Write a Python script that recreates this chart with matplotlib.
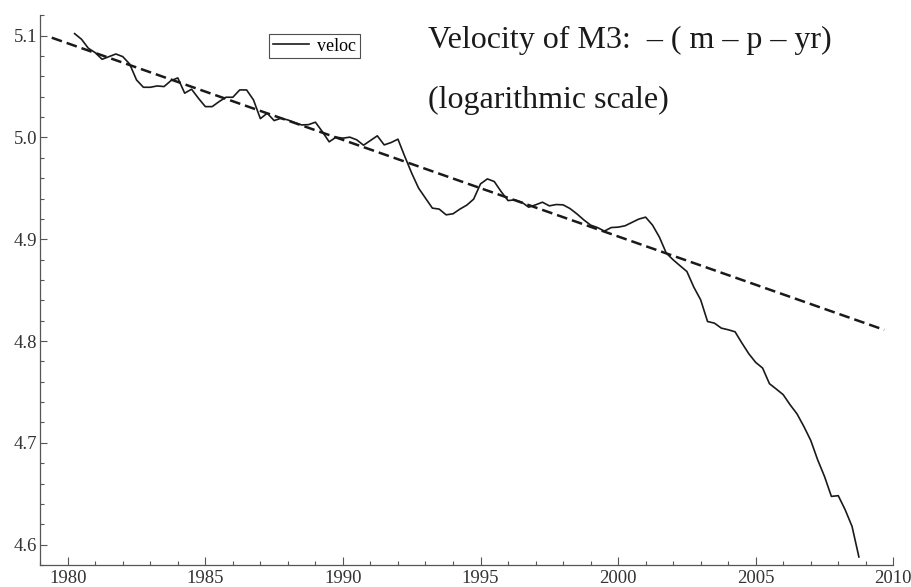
import numpy as np
import matplotlib
matplotlib.use("Agg")
import matplotlib.pyplot as plt

# quarterly velocity of M3 (log scale), 1980Q2 .. 2008Q4
start_year = 1980.25
veloc = [5.102, 5.0965, 5.0876, 5.0833, 5.0768, 5.0794, 5.082, 5.0794,
         5.0722, 5.0565, 5.0493, 5.0493, 5.0506, 5.050, 5.0558, 5.0585,
         5.0435, 5.0474, 5.0385, 5.0303, 5.0303, 5.0352, 5.0395, 5.0395,
         5.0467, 5.0467, 5.0369, 5.0185, 5.0238, 5.0166, 5.0189, 5.0172,
         5.0146, 5.0123, 5.0126, 5.015, 5.0058, 4.9957, 5.0003, 4.9993,
         5.0003, 4.9977, 4.9924, 4.997, 5.0016, 4.9927, 4.995, 4.9983,
         4.9812, 4.9649, 4.9502, 4.9404, 4.9306, 4.9296, 4.924, 4.925,
         4.9296, 4.9335, 4.9394, 4.9544, 4.9593, 4.9567, 4.9468, 4.938,
         4.9387, 4.9364, 4.9315, 4.9338, 4.9364, 4.9328, 4.9341, 4.9338,
         4.9302, 4.925, 4.9191, 4.9139, 4.9115, 4.908, 4.9115, 4.9119,
         4.9132, 4.9165, 4.9198, 4.9217, 4.9139, 4.9021, 4.8864, 4.8798,
         4.874, 4.8683, 4.853, 4.8405, 4.8192, 4.8176, 4.8127, 4.8111,
         4.8091, 4.798, 4.7875, 4.779, 4.7735, 4.7581, 4.7528, 4.7473,
         4.7374, 4.7285, 4.7161, 4.7024, 4.6834, 4.667, 4.6474, 4.6481,
         4.6343, 4.618, 4.5879]
years = start_year + 0.25 * np.arange(len(veloc))

# linear trend (dashed)
trend_years = [1979.42, 2009.67]
trend_vals = [5.098, 4.811]

xticks = [1980, 1985, 1990, 1995, 2000, 2005, 2010]
yticks = [4.6, 4.7, 4.8, 4.9, 5.0, 5.1]

plt.rcParams['font.family'] = ['Liberation Serif', 'DejaVu Serif']

fig = plt.figure(figsize=(9.12, 5.87), dpi=100)
ax = fig.add_axes([40.2/912, 22/587, 853.1/912, 550/587])

ax.plot(trend_years, trend_vals, color='#1a1a1a', lw=1.8,
        linestyle=(0, (4.3, 2.0)))
ax.plot(years, veloc, color='#1a1a1a', lw=1.2, label='veloc')

ax.set_xlim(1979, 2010)
ax.set_ylim(4.5804, 5.1203)
ax.set_xticks(xticks)
ax.set_xticks(np.arange(1979, 2011, 1), minor=True)
ax.set_yticks(yticks)
ax.set_yticks(np.arange(4.58, 5.121, 0.02), minor=True)
ax.set_yticklabels(['%.1f' % v for v in yticks])

for s in ['top', 'right']:
    ax.spines[s].set_visible(False)
for s in ['left', 'bottom']:
    ax.spines[s].set_color('#555555')
    ax.spines[s].set_linewidth(0.9)

ax.tick_params(axis='both', which='both', direction='in', color='#555555',
               labelcolor='#333333', labelsize=13.5, width=0.8)
ax.tick_params(axis='x', which='major', length=6, pad=3.5)
ax.tick_params(axis='x', which='minor', length=3)
ax.tick_params(axis='y', which='major', length=5, pad=2)
ax.tick_params(axis='y', which='minor', length=3)

leg = ax.legend(loc='upper left', bbox_to_anchor=(269.3/912, 1 - 34/587),
                bbox_transform=fig.transFigure, borderaxespad=0,
                fontsize=13, frameon=True, fancybox=False, handlelength=2.0,
                handletextpad=0.45, borderpad=0.2)
leg.get_frame().set_edgecolor('#222222')
leg.get_frame().set_linewidth(0.8)

fig.text(428/912, 1 - 48/587, 'Velocity of M3:  \u2013 ( m \u2013 p \u2013 yr)',
         fontsize=23, color='#1a1a1a', va='baseline', ha='left')
fig.text(428/912, 1 - 108/587, '(logarithmic scale)',
         fontsize=23, color='#1a1a1a', va='baseline', ha='left')

fig.savefig('out.png', dpi=100)
